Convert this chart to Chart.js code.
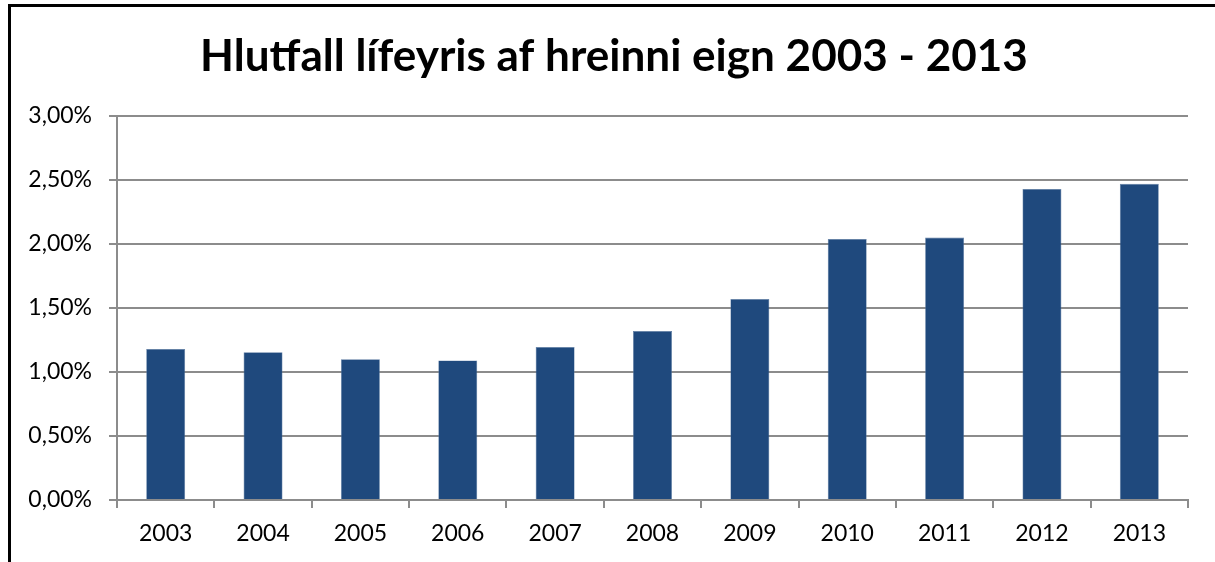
<!DOCTYPE html>
<html>
<head>
<meta charset="utf-8">
<script src="https://cdn.jsdelivr.net/npm/chart.js@4.4.1/dist/chart.umd.min.js"></script>
<style>
  html, body { margin: 0; padding: 0; background: #fff; overflow: hidden; }
  #wrap { position: relative; width: 1215px; height: 562px; }
  #frame {
    position: absolute; left: 8px; top: 4px; width: 2000px; height: 2000px;
    border: 3px solid #000; box-sizing: border-box;
  }
  canvas { position: absolute; left: 0; top: 0; }
</style>
</head>
<body>
<div id="wrap">
  <div id="frame"></div>
  <canvas id="myChart" width="1215" height="562"></canvas>
</div>
<script>
// Chart data
const titleText = 'Hlutfall lífeyris af hreinni eign 2003 - 2013';
const years = ['2003', '2004', '2005', '2006', '2007', '2008', '2009', '2010', '2011', '2012', '2013'];
const ratio = [1.18, 1.155, 1.10, 1.09, 1.195, 1.32, 1.57, 2.04, 2.05, 2.43, 2.47];
const yTickLabels = ['0,00%', '0,50%', '1,00%', '1,50%', '2,00%', '2,50%', '3,00%'];

const fontFamily = 'Lato, "Open Sans", sans-serif';
const axisGray = '#8c8c8c';

// size the title so its width is close to the original
function fitTitleSize(text, target) {
  const c = document.createElement('canvas').getContext('2d');
  c.font = 'bold 40px ' + fontFamily;
  const w = c.measureText(text).width;
  return Math.min(46, 40 * target / w);
}
const titleSize = fitTitleSize(titleText, 828);

// title drawn by hand so it can sit a bit right of the canvas centre, like the original
const titlePlugin = {
  id: 'offsetTitle',
  afterDraw(chart) {
    const c = chart.ctx;
    c.save();
    c.font = 'bold ' + titleSize + 'px ' + fontFamily;
    c.fillStyle = '#000';
    c.textAlign = 'center';
    c.textBaseline = 'middle';
    c.fillText(titleText, 614, 57);
    c.restore();
  }
};

const ctx = document.getElementById('myChart').getContext('2d');
new Chart(ctx, {
  type: 'bar',
  data: {
    labels: years,
    datasets: [
      {
        data: ratio,
        backgroundColor: '#1f497d',
        borderColor: '#5d7ca3',
        borderWidth: 0.6,
        barPercentage: 0.4,
        categoryPercentage: 1.0,
      }
    ]
  },
  plugins: [titlePlugin],
  options: {
    responsive: false,
    animation: false,
    layout: { padding: { left: 0, right: 27, top: 116, bottom: 0 } },
    plugins: {
      legend: { display: false },
      tooltip: { enabled: false },
      title: { display: false },
    },
    scales: {
      x: {
        grid: {
          display: true,
          drawOnChartArea: false,
          drawTicks: true,
          tickLength: 8,
          color: axisGray,
          lineWidth: 2,
          offset: true,
        },
        border: { display: true, color: axisGray, width: 2 },
        ticks: {
          color: '#000',
          padding: 12,
          font: { family: fontFamily, size: 23 },
          maxRotation: 0,
        },
        afterFit: (scale) => { scale.height = 62; },
      },
      y: {
        min: 0,
        max: 3,
        grid: {
          color: axisGray,
          lineWidth: 2,
          drawTicks: true,
          tickLength: 8,
        },
        border: { display: true, color: axisGray, width: 2 },
        ticks: {
          stepSize: 0.5,
          color: '#000',
          padding: 17,
          font: { family: fontFamily, size: 23 },
          callback: (value, index) => yTickLabels[index],
        },
        afterFit: (scale) => { scale.width = 117; },
      }
    }
  }
});
</script>
</body>
</html>
